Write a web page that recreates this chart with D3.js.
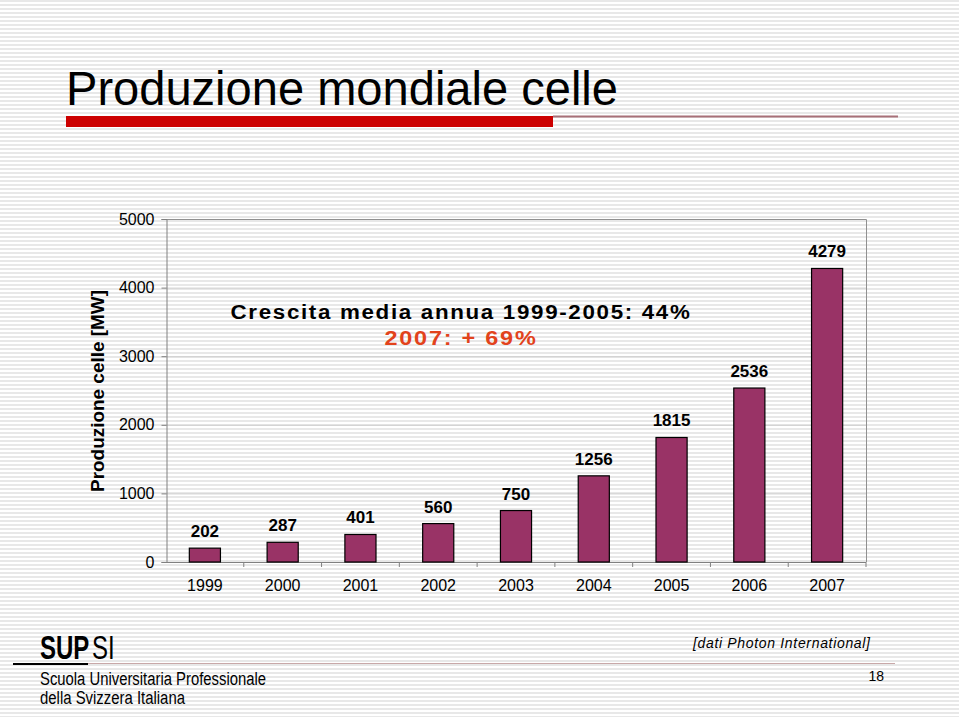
<!DOCTYPE html>
<html><head><meta charset="utf-8">
<script src="https://cdn.jsdelivr.net/npm/d3@7"></script>
<style>body{margin:0;background:#fff}svg{display:block}</style>
</head><body>
<script>
const years = ["1999","2000","2001","2002","2003","2004","2005","2006","2007"];
const production = [202, 287, 401, 560, 750, 1256, 1815, 2536, 4279];
const yTicks = [0, 1000, 2000, 3000, 4000, 5000];

const W = 959, H = 717;
const svg = d3.select("body").append("svg").attr("width", W).attr("height", H);
const defs = svg.append("defs");
const pat = defs.append("pattern").attr("id","stripes").attr("patternUnits","userSpaceOnUse")
  .attr("width",8).attr("height",4);
pat.append("rect").attr("width",8).attr("height",4).attr("fill","#ffffff");
pat.append("rect").attr("y",0).attr("width",8).attr("height",2).attr("fill","#e8e8e8");
svg.append("rect").attr("width",W).attr("height",H).attr("fill","url(#stripes)");

// Title
svg.append("text").attr("x",66).attr("y",105)
  .attr("font-family","'Liberation Sans Narrow','Liberation Sans',Arial,sans-serif")
  .attr("font-size",48).attr("fill","#000")
  .attr("textLength",552).attr("lengthAdjust","spacingAndGlyphs")
  .text("Produzione mondiale celle");
svg.append("line").attr("x1",553).attr("x2",898).attr("y1",116.5).attr("y2",116.5)
  .attr("stroke","#a87078").attr("stroke-width",2);
svg.append("rect").attr("x",66).attr("y",116).attr("width",487).attr("height",11).attr("fill","#cc0000");

// Chart
const m = {l:166, t:219, r:866, b:562};
const x = d3.scaleBand().domain(years).range([m.l, m.r]).paddingInner(0.6).paddingOuter(0.3);
const xb = d3.scaleBand().domain(years).range([m.l, m.r]);
const y = d3.scaleLinear().domain([0,5000]).range([m.b, m.t]);

const g = svg.append("g");
g.selectAll("line.grid").data(yTicks.filter(d=>d>0 && d<5000)).join("line")
  .attr("x1",m.l).attr("x2",m.r).attr("y1",d=>y(d)+0.5).attr("y2",d=>y(d)+0.5)
  .attr("stroke","#cfcfcf").attr("stroke-width",1);
g.append("path").attr("d",`M${m.l},${m.t+0.5}H${m.r+0.5}V${m.b}`).attr("fill","none")
  .attr("stroke","#909090").attr("stroke-width",1);

const ya = g.append("g").attr("transform",`translate(${m.l+0.5},0)`)
  .call(d3.axisLeft(y).tickValues(yTicks).tickSize(5).tickPadding(7).tickFormat(d3.format("d")));
ya.select(".domain").attr("stroke","#808080");
ya.selectAll(".tick line").attr("stroke","#808080");
ya.selectAll("text").attr("font-family","'Liberation Sans',Arial,sans-serif").attr("font-size",16).attr("fill","#000");

const xa = g.append("g").attr("transform",`translate(0,${m.b+0.5})`)
  .call(d3.axisBottom(x).tickSize(0).tickPadding(17));
xa.select(".domain").attr("d",`M${m.l},0H${m.r}`).attr("stroke","#808080");
xa.selectAll("text").attr("font-family","'Liberation Sans',Arial,sans-serif").attr("font-size",16).attr("fill","#000");
g.selectAll("line.xt").data(years.slice(1).concat(["end"])).join("line")
  .attr("x1",d=> d==="end"? m.r : xb(d)).attr("x2",d=> d==="end"? m.r : xb(d))
  .attr("y1",m.b).attr("y2",m.b+5).attr("stroke","#808080");

g.selectAll("rect.bar").data(production).join("rect")
  .attr("x",(d,i)=>x(years[i])).attr("width",x.bandwidth())
  .attr("y",d=>y(d)).attr("height",d=>m.b-y(d))
  .attr("fill","#993366").attr("stroke","#000").attr("stroke-width",1.2);

g.selectAll("text.lab").data(production).join("text")
  .attr("x",(d,i)=>x(years[i])+x.bandwidth()/2).attr("y",d=>y(d)-11)
  .attr("text-anchor","middle").attr("font-family","'Liberation Sans Narrow','Liberation Sans',Arial,sans-serif")
  .attr("font-weight","bold").attr("font-size",17).attr("fill","#000")
  .text(d=>d);

svg.append("text").attr("transform","translate(104,391) rotate(-90)")
  .attr("text-anchor","middle").attr("font-family","'Liberation Sans',Arial,sans-serif")
  .attr("font-weight","bold").attr("font-size",19).attr("fill","#000")
  .attr("textLength",202).attr("lengthAdjust","spacingAndGlyphs")
  .text("Produzione celle [MW]");

svg.append("text").attr("x",461).attr("y",319).attr("text-anchor","middle")
  .attr("font-family","'Liberation Sans',Arial,sans-serif").attr("font-weight","bold")
  .attr("font-size",20).attr("fill","#000")
  .attr("textLength",461).attr("lengthAdjust","spacingAndGlyphs")
  .attr("letter-spacing",1.5)
  .text("Crescita media annua 1999-2005: 44%");
svg.append("text").attr("x",461).attr("y",345).attr("text-anchor","middle")
  .attr("font-family","'Liberation Sans',Arial,sans-serif").attr("font-weight","bold")
  .attr("font-size",20).attr("fill","#e2431c")
  .attr("letter-spacing",1.5)
  .attr("textLength",153).attr("lengthAdjust","spacingAndGlyphs")
  .text("2007: + 69%");

// footer
svg.append("text").attr("transform","translate(40,659) scale(1,1.35)")
  .attr("font-family","'Liberation Sans',Arial,sans-serif")
  .attr("font-size",24).attr("font-weight","bold").attr("fill","#000")
  .text("SUP");
svg.append("text").attr("transform","translate(92,659) scale(1,1.35)")
  .attr("font-family","'Liberation Sans',Arial,sans-serif")
  .attr("font-size",24).attr("fill","#000")
  .text("SI");
svg.append("line").attr("x1",88).attr("x2",895).attr("y1",663.5).attr("y2",663.5).attr("stroke","#c8a8a8").attr("stroke-width",1);
svg.append("line").attr("x1",13).attr("x2",88).attr("y1",664).attr("y2",664).attr("stroke","#000").attr("stroke-width",2);
svg.append("text").attr("x",40).attr("y",685)
  .attr("font-family","'Liberation Sans Narrow','Liberation Sans',Arial,sans-serif")
  .attr("font-size",18).attr("fill","#000")
  .attr("textLength",226).attr("lengthAdjust","spacingAndGlyphs")
  .text("Scuola Universitaria Professionale");
svg.append("text").attr("x",40).attr("y",704)
  .attr("font-family","'Liberation Sans Narrow','Liberation Sans',Arial,sans-serif")
  .attr("font-size",18).attr("fill","#000")
  .attr("textLength",145).attr("lengthAdjust","spacingAndGlyphs")
  .text("della Svizzera Italiana");
svg.append("text").attr("x",693).attr("y",648)
  .attr("font-family","'Liberation Sans',Arial,sans-serif").attr("font-style","italic")
  .attr("font-size",14).attr("fill","#000")
  .attr("textLength",177).attr("lengthAdjust","spacing")
  .text("[dati Photon International]");
svg.append("text").attr("x",884).attr("y",681).attr("text-anchor","end")
  .attr("font-family","'Liberation Sans',Arial,sans-serif")
  .attr("font-size",14).attr("fill","#000").text("18");
</script>
</body></html>
